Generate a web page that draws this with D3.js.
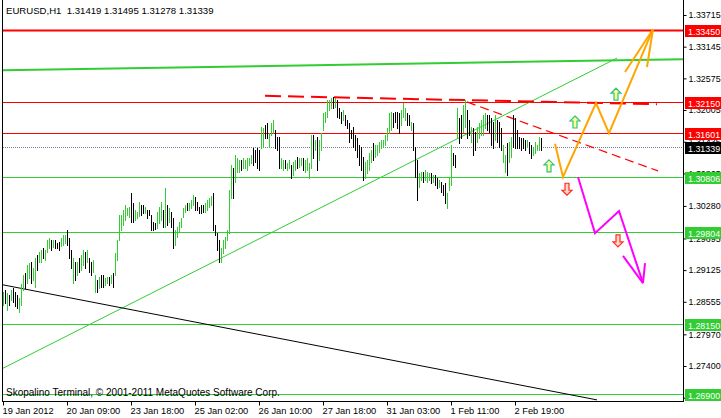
<!DOCTYPE html>
<html><head><meta charset="utf-8">
<script src="https://cdn.jsdelivr.net/npm/d3@7"></script>
<style>
html,body{margin:0;padding:0;background:#fff;}
svg{display:block;font-family:"Liberation Sans",Arial,sans-serif;}
</style></head><body>
<svg id="c" width="721" height="418"></svg>
<script>
// ---------- data ----------
const symbolText = "EURUSD,H1  1.31419 1.31495 1.31278 1.31339";
const copyrightText = "Skopalino Terminal, \u00a9 2001-2011 MetaQuotes Software Corp.";
const timeLabels = ["19 Jan 2012","20 Jan 09:00","23 Jan 18:00","25 Jan 02:00","26 Jan 10:00","27 Jan 18:00","31 Jan 03:00","1 Feb 11:00","2 Feb 19:00"];
const timeLabelBar = [0,32,64,96,128,160,192,224,256];
const priceTicks = [1.33715,1.33145,1.32575,1.32005,1.31435,1.30865,1.30280,1.29695,1.29125,1.28555,1.27970,1.27400,1.26830];

const barHigh = [
1.2873,1.2877,1.2871,1.2868,1.2877,1.2880,1.2873,1.2868,1.2862,1.2887,
1.2904,1.2907,1.2922,1.2925,1.2927,1.2916,1.2934,1.2940,1.2945,1.2949,
1.2952,1.2949,1.2967,1.2970,1.2967,1.2967,1.2967,1.2961,1.2963,1.2970,
1.2976,1.2976,1.2985,1.2970,1.2949,1.2934,1.2927,1.2927,1.2934,1.2940,
1.2949,1.2945,1.2949,1.2934,1.2927,1.2931,1.2904,1.2895,1.2900,1.2904,
1.2904,1.2898,1.2900,1.2900,1.2904,1.2907,1.2943,1.2967,1.3012,1.3012,
1.3021,1.3030,1.3024,1.3026,1.3051,1.3033,1.3021,1.3017,1.3035,1.3030,
1.3030,1.3026,1.3021,1.3021,1.3012,1.2999,1.2997,1.3017,1.3026,1.3035,
1.3021,1.3060,1.3030,1.3024,1.3017,1.3006,1.2985,1.2990,1.2999,1.3006,
1.3024,1.3030,1.3033,1.3033,1.3039,1.3048,1.3044,1.3035,1.3026,1.3030,
1.3030,1.3033,1.3039,1.3042,1.3046,1.3051,1.2994,1.2979,1.2967,1.2952,
1.2967,1.2972,1.2985,1.3057,1.3102,1.3096,1.3120,1.3114,1.3111,1.3111,
1.3114,1.3111,1.3114,1.3114,1.3120,1.3132,1.3129,1.3132,1.3129,1.3170,
1.3168,1.3174,1.3177,1.3159,1.3177,1.3183,1.3165,1.3152,1.3152,1.3114,
1.3111,1.3111,1.3105,1.3111,1.3102,1.3107,1.3111,1.3116,1.3114,1.3114,
1.3114,1.3111,1.3114,1.3105,1.3156,1.3156,1.3147,1.3152,1.3147,1.3159,
1.3195,1.3197,1.3219,1.3219,1.3222,1.3224,1.3222,1.3219,1.3204,1.3197,
1.3201,1.3192,1.3183,1.3177,1.3165,1.3170,1.3156,1.3150,1.3138,1.3134,
1.3116,1.3107,1.3111,1.3123,1.3129,1.3141,1.3138,1.3138,1.3143,1.3147,
1.3147,1.3156,1.3168,1.3195,1.3197,1.3195,1.3197,1.3197,1.3195,1.3201,
1.3213,1.3204,1.3195,1.3192,1.3179,1.3177,1.3134,1.3111,1.3087,1.3089,
1.3089,1.3093,1.3089,1.3087,1.3087,1.3084,1.3084,1.3078,1.3075,1.3071,
1.3066,1.3069,1.3051,1.3080,1.3138,1.3123,1.3120,1.3204,1.3186,1.3192,
1.3210,1.3219,1.3201,1.3183,1.3170,1.3168,1.3161,1.3170,1.3177,1.3183,
1.3192,1.3195,1.3192,1.3192,1.3186,1.3179,1.3192,1.3183,1.3179,1.3168,
1.3138,1.3120,1.3141,1.3143,1.3152,1.3192,1.3186,1.3165,1.3152,1.3150,
1.3150,1.3147,1.3147,1.3143,1.3138,1.3132,1.3143,1.3138,1.3152,1.3150];

const barLow = [
1.2850,1.2853,1.2841,1.2850,1.2859,1.2855,1.2848,1.2844,1.2837,1.2850,
1.2877,1.2880,1.2889,1.2898,1.2889,1.2895,1.2882,1.2913,1.2927,1.2927,
1.2934,1.2931,1.2945,1.2952,1.2949,1.2954,1.2952,1.2952,1.2949,1.2956,
1.2958,1.2961,1.2958,1.2934,1.2916,1.2889,1.2895,1.2904,1.2909,1.2913,
1.2922,1.2916,1.2927,1.2909,1.2904,1.2909,1.2873,1.2873,1.2880,1.2882,
1.2882,1.2886,1.2889,1.2886,1.2889,1.2882,1.2904,1.2931,1.2967,1.2985,
1.2994,1.3003,1.3012,1.3008,1.2999,1.2999,1.3003,1.3006,1.3010,1.3012,
1.3015,1.3015,1.3006,1.3012,1.2985,1.2985,1.2986,1.2988,1.2997,1.3003,
1.2990,1.2990,1.2994,1.2999,1.2990,1.2952,1.2958,1.2972,1.2981,1.2990,
1.3008,1.3017,1.3021,1.3021,1.3024,1.3030,1.3021,1.3021,1.3015,1.3015,
1.3017,1.3017,1.3021,1.3026,1.3030,1.2985,1.2976,1.2949,1.2927,1.2927,
1.2943,1.2952,1.2967,1.2979,1.3042,1.3042,1.3071,1.3089,1.3089,1.3093,
1.3096,1.3096,1.3093,1.3102,1.3105,1.3102,1.3107,1.3096,1.3093,1.3132,
1.3134,1.3150,1.3150,1.3134,1.3156,1.3159,1.3132,1.3129,1.3096,1.3096,
1.3093,1.3096,1.3093,1.3096,1.3078,1.3084,1.3093,1.3096,1.3098,1.3102,
1.3093,1.3089,1.3093,1.3078,1.3096,1.3114,1.3129,1.3093,1.3111,1.3129,
1.3165,1.3179,1.3188,1.3201,1.3204,1.3204,1.3206,1.3188,1.3186,1.3177,
1.3183,1.3174,1.3168,1.3143,1.3150,1.3134,1.3129,1.3116,1.3102,1.3093,
1.3075,1.3078,1.3087,1.3093,1.3107,1.3111,1.3116,1.3120,1.3125,1.3132,
1.3134,1.3138,1.3147,1.3159,1.3165,1.3170,1.3179,1.3168,1.3159,1.3174,
1.3188,1.3183,1.3174,1.3174,1.3165,1.3129,1.3080,1.3039,1.3062,1.3075,
1.3071,1.3075,1.3071,1.3075,1.3069,1.3071,1.3066,1.3060,1.3062,1.3053,
1.3048,1.3033,1.3024,1.3057,1.3066,1.3102,1.3098,1.3150,1.3141,1.3150,
1.3161,1.3170,1.3150,1.3156,1.3143,1.3120,1.3129,1.3143,1.3150,1.3156,
1.3156,1.3168,1.3165,1.3161,1.3138,1.3132,1.3147,1.3143,1.3134,1.3129,
1.3107,1.3089,1.3084,1.3107,1.3116,1.3134,1.3132,1.3132,1.3132,1.3129,
1.3132,1.3129,1.3134,1.3123,1.3114,1.3120,1.3123,1.3129,1.3129,1.3128];

// u = bullish bar (green), d = bearish bar (black); 10 bars per chunk
const barDirChunks = [
"udududdduu","uduuduuduu","duuududddu","uudddududu","ududduudud",
"duududuuuu","uuuudduuud","duddddduuu","dududduuuu","uuduuudddd",
"duuuuddddu","uuuuuduuud","uuuuuddddu","udduuudddu","uduuduuduu",
"duuuududuu","uuuuududdd","uddddddddd","duuuuduuuu","uuuuuddddu",
"uudduddduu","duuududdud","dduuuddudd","uuddudduuu","uudddduddd",
"uuduuddddd","ddudduuuud"];
const barDir = barDirChunks.join("");

// horizontal level lines
const levelPrices = [1.33450, 1.32150, 1.31601, 1.30806, 1.29804, 1.28150, 1.26900];
const levelKinds  = ["redThick","red","red","green","green","green","green"];
const bidPrice = 1.31339;

// trend lines: [bar index, price] pairs
const greenThickTrend = [[0, 1.3272], [340, 1.3292]];
const greenThinTrend  = [[0, 1.2736], [307, 1.3294]];
const blackTrend      = [[0, 1.2886], [297, 1.2679]];
const redDashTrend    = [[131, 1.3226], [327, 1.3211]];
const redThinDash     = [[232, 1.3215], [327.5, 1.3091]];

// forecast polylines
const orangePath  = [[276, 1.3140], [280, 1.3080], [296.5, 1.3213], [303, 1.3159], [325, 1.3346]];
const orangeHeadA = [[311, 1.3269], [325, 1.3346]];
const orangeHeadB = [[322, 1.3278], [325, 1.3346]];
const magentaPath = [[287.5, 1.3080], [296, 1.2979], [308, 1.3019], [320, 1.2889]];
const magentaHeadA = [[321, 1.2925], [320, 1.2889]];
const magentaHeadB = [[310, 1.2938], [320, 1.2889]];

// arrow markers
const upArrows   = [[273, 1.3100], [286, 1.3179], [306.5, 1.3229]];
const downArrows = [[282, 1.3058], [307.5, 1.2965]];

// ---------- drawing ----------
const W = 721, H = 418;
const plotL = 3, plotR = 683, plotB = 401;
const svg = d3.select("#c");
const x = d3.scaleLinear().domain([0, 340]).range([plotL, plotR]);
const y = d3.scaleLinear().domain([1.33715, 1.27400]).range([15, 366]);

const GREEN = "#32CD32", RED = "#FF0000";
const FONT = "Liberation Sans, Arial, sans-serif";

svg.append("rect").attr("width", W).attr("height", H).attr("fill", "#fff");

svg.append("defs").append("clipPath").attr("id", "clip")
  .append("rect").attr("x", plotL).attr("y", 0).attr("width", plotR - plotL).attr("height", plotB);

const plot = svg.append("g").attr("clip-path", "url(#clip)");

// level lines
levelPrices.forEach((p, i) => {
  const k = levelKinds[i];
  const yy = Math.round(y(p)) + 0.5;
  plot.append("line").attr("x1", plotL).attr("x2", plotR).attr("y1", yy).attr("y2", yy)
    .attr("stroke", k === "green" ? GREEN : RED)
    .attr("stroke-width", k === "redThick" ? 2 : 1);
});
// bid line (dotted)
{
  const yy = Math.round(y(bidPrice)) + 0.5;
  plot.append("line").attr("x1", plotL).attr("x2", plotR).attr("y1", yy).attr("y2", yy)
    .attr("stroke", "#708090").attr("stroke-width", 1).attr("stroke-dasharray", "1,1");
}

const line = d3.line().x(d => x(d[0])).y(d => y(d[1]));

// trend lines
plot.append("path").attr("d", line(greenThickTrend)).attr("fill", "none").attr("stroke", GREEN).attr("stroke-width", 2);
plot.append("path").attr("d", line(greenThinTrend)).attr("fill", "none").attr("stroke", GREEN).attr("stroke-width", 1);
plot.append("path").attr("d", line(blackTrend)).attr("fill", "none").attr("stroke", "#000").attr("stroke-width", 1);
plot.append("path").attr("d", line(redDashTrend)).attr("fill", "none").attr("stroke", RED).attr("stroke-width", 2).attr("stroke-dasharray", "16,7");
plot.append("path").attr("d", line(redThinDash)).attr("fill", "none").attr("stroke", RED).attr("stroke-width", 1.3).attr("stroke-dasharray", "9,5");

// bars
const bars = d3.range(barHigh.length).map(i => ({i, h: barHigh[i], l: barLow[i], up: barDir[i] === "u"}));
plot.append("g").selectAll("line").data(bars).join("line")
  .attr("x1", d => Math.round(x(d.i)) + 0.5).attr("x2", d => Math.round(x(d.i)) + 0.5)
  .attr("y1", d => Math.round(y(d.h))).attr("y2", d => Math.round(y(d.l)) + 1)
  .attr("stroke", d => d.up ? GREEN : "#000").attr("stroke-width", 1);

// forecast paths
[orangePath, orangeHeadA, orangeHeadB].forEach(p =>
  plot.append("path").attr("d", line(p)).attr("fill", "none").attr("stroke", "#FFA500")
    .attr("stroke-width", 2));
[magentaPath, magentaHeadA, magentaHeadB].forEach(p =>
  plot.append("path").attr("d", line(p)).attr("fill", "none").attr("stroke", "#FF00FF")
    .attr("stroke-width", 2));

// arrow markers
const arrowShape = "M0,-6 L5,-1 L2,-1 L2,6 L-2,6 L-2,-1 L-5,-1 Z";
upArrows.forEach(a => {
  plot.append("path").attr("d", arrowShape)
    .attr("transform", `translate(${x(a[0])},${y(a[1])})`)
    .attr("fill", "#FFFF99").attr("stroke", "#2EC27E").attr("stroke-width", 1.2);
});
downArrows.forEach(a => {
  plot.append("path").attr("d", arrowShape)
    .attr("transform", `translate(${x(a[0])},${y(a[1])}) rotate(180)`)
    .attr("fill", "#FFD8C0").attr("stroke", "#FF2A2A").attr("stroke-width", 1.2);
});

// frame
svg.append("line").attr("x1", 2.5).attr("x2", 2.5).attr("y1", 0).attr("y2", plotB).attr("stroke", "#000");
svg.append("line").attr("x1", 2).attr("x2", plotR + 1).attr("y1", plotB + 0.5).attr("y2", plotB + 0.5).attr("stroke", "#000");
svg.append("line").attr("x1", plotR + 0.5).attr("x2", plotR + 0.5).attr("y1", 0).attr("y2", plotB + 1).attr("stroke", "#000");

// price axis
const yAxis = d3.axisRight(y).tickValues(priceTicks).tickSize(3).tickPadding(2).tickFormat(d3.format(".5f"));
const ya = svg.append("g").attr("transform", `translate(${plotR + 0.5},0)`).call(yAxis);
ya.select(".domain").remove();
ya.selectAll("text").attr("font-size", 8.9).attr("font-family", FONT).attr("fill", "#000");
ya.selectAll("line").attr("stroke", "#000");

// time axis
const xAxis = d3.axisBottom(x).tickValues(timeLabelBar).tickSize(4).tickPadding(2)
  .tickFormat((d, i) => timeLabels[i]);
const xa = svg.append("g").attr("transform", `translate(0,${plotB + 0.5})`).call(xAxis);
xa.select(".domain").remove();
xa.selectAll("text").attr("text-anchor", "start").attr("dx", -1).attr("font-size", 9.3)
  .attr("font-family", FONT).attr("fill", "#000");
xa.selectAll("line").attr("stroke", "#000");

// level labels on price axis
const boxColors = {redThick: RED, red: RED, green: GREEN};
const tagPrices = levelPrices.concat([bidPrice]);
const tagColors = levelKinds.map(k => boxColors[k]).concat(["#000"]);
tagPrices.forEach((p, i) => {
  const yy = Math.round(y(p));
  svg.append("rect").attr("x", plotR + 2).attr("y", yy - 5).attr("width", W - plotR - 2).attr("height", 12).attr("fill", tagColors[i]);
  svg.append("text").attr("x", plotR + 5).attr("y", yy + 4.5).attr("font-size", 8.9)
    .attr("font-family", FONT).attr("fill", "#fff").text(d3.format(".5f")(p));
});

// texts
svg.append("text").attr("x", 6).attr("y", 14).attr("font-size", 9.6).attr("fill", "#000")
  .attr("font-family", FONT).style("white-space", "pre").text(symbolText);
svg.append("text").attr("x", 6).attr("y", 396).attr("font-size", 10).attr("fill", "#000")
  .attr("font-family", FONT).text(copyrightText);
</script>
</body></html>
